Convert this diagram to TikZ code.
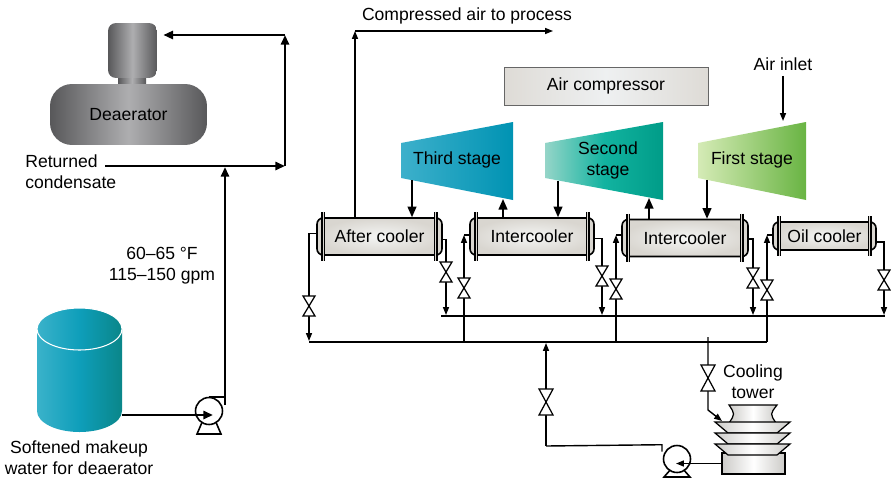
\documentclass[tikz,border=0pt]{standalone}
\usepackage{fontspec}
\setmainfont{Liberation Sans}
\usetikzlibrary{arrows.meta,calc}

\definecolor{deadark}{HTML}{58585A}
\definecolor{dealight}{HTML}{AEAEB0}
\definecolor{tankL}{HTML}{3AB2CA}
\definecolor{tankM}{HTML}{0E9EBA}
\definecolor{tankR}{HTML}{0A8689}
\definecolor{hxgrey}{HTML}{D9D6D0}
\definecolor{hxlight}{HTML}{F4F5F4}
\definecolor{boxgrey}{HTML}{DEDBD6}
\definecolor{boxlight}{HTML}{EEF0F1}
\definecolor{thirdL}{HTML}{3DB0CB}
\definecolor{thirdR}{HTML}{0093B3}
\definecolor{secondL}{HTML}{95D5C8}
\definecolor{secondM}{HTML}{12B3A0}
\definecolor{secondR}{HTML}{009C88}
\definecolor{firstL}{HTML}{D5EBB6}
\definecolor{firstR}{HTML}{69B443}
\definecolor{ctgrey}{HTML}{CCCBC8}

\begin{document}
\begin{tikzpicture}[x=0.02cm,y=-0.02cm,
  pipe/.style={line width=0.8pt},
  water/.style={pipe,-{Triangle[length=4.5pt,width=3.4pt]}},
  flow/.style={line width=0.8pt,-{Triangle[length=4.5pt,width=3.4pt]}},
  feed/.style={line width=1.4pt,-{Triangle[length=5.5pt,width=4.6pt]}},
  air/.style={line width=0.9pt,-{Triangle[length=6pt,width=5pt]}},
  hx node/.style={draw,line width=0.9pt,rounded corners=3.5pt,inner sep=0pt,
    minimum height=0.74cm,inner color=hxlight,outer color=hxgrey},
  sheet/.style={line width=0.8pt,double=hxgrey,double distance=0.6pt},
  stage node/.style={inner sep=0pt,align=center},
  label node/.style={inner sep=0pt,align=center},
  pump node/.style={circle,draw,line width=0.9pt,fill=white,minimum size=0.54cm,inner sep=0pt},
  ct/.style={draw,line width=0.7pt,left color=ctgrey,right color=ctgrey,middle color=white},
  valve/.pic={\draw[line width=0.7pt,fill=white] (-6,-10) -- (6,-10) -- (-6,10) -- (6,10) -- cycle;},
  big valve/.pic={\draw[line width=0.7pt,fill=white] (-7,-13) -- (7,-13) -- (-7,13) -- (7,13) -- cycle;}]

\useasboundingbox (0,0) rectangle (891,480);

% deaerator
\shade[left color=deadark,right color=deadark,middle color=dealight] (118,75) rectangle (146,86);
\node[rounded corners=0.16cm,minimum width=0.98cm,minimum height=1.1cm,
  left color=deadark,right color=deadark,middle color=dealight] (dome) at (132.5,50.5) {};
\node[rounded corners=0.44cm,minimum width=3.14cm,minimum height=1.22cm,
  left color=deadark,right color=deadark,middle color=dealight] (dea) at (128.5,114.5) {Deaerator};

% makeup water tank
\shade[left color=tankL,right color=tankR,middle color=tankM] (37,329) -- (37,411)
  arc[start angle=180,end angle=0,x radius=42.5,y radius=21] -- (122,329) -- cycle;
\shade[left color=tankL,right color=tankR,middle color=tankM] (79.5,329) ellipse[x radius=42.5,y radius=21];
\draw[white,line width=0.6pt] (79.5,329) ellipse[x radius=42.5,y radius=21];
\coordinate (tank) at (122,415);
\node[label node] (tanktext) at (79,458) {Softened makeup\\water for deaerator};

% makeup pump
\draw[line width=0.9pt,fill=white] (203,420) -- (197,434) -- (221,434) -- (215,420);
\node[pump node] (p1) at (209,411) {};
\draw[line width=0.9pt] (p1.north) -- ++(16,0) -- ++(0,8);
\draw[feed] (tank) -- (213,415);

\node[label node,anchor=west,align=left] (rc) at (25,172) {Returned\\condensate};
\node[label node] (flowtext) at (162,266) {60–65 °F\\115–150 gpm};

\coordinate (rcend) at (105,166);
\coordinate (up1) at (285,166);
\coordinate (up2) at (285,35);
\coordinate (p1out) at (225,405);
\draw[feed] (rcend) -- (up1);
\draw[feed] (up1) -- (up2);
\draw[feed] (up2) -- ($(dome.east |- up2)+(6,0)$);
\draw[feed] (p1out) -- ($(p1out |- rcend)+(0,1)$);

% compressor
\node[draw=black!60,line width=0.5pt,minimum width=4.08cm,minimum height=0.76cm,
  left color=boxgrey,right color=boxgrey,middle color=boxlight] (comp) at (606,86) {Air compressor};

\shade[left color=thirdL,right color=thirdR] (401,143) -- (513,122) -- (513,200) -- (401,178) -- cycle;
\shade[left color=secondL,right color=secondR,middle color=secondM] (545,143) -- (663,122) -- (663,200) -- (545,178) -- cycle;
\shade[left color=firstL,right color=firstR] (698,143) -- (806,122) -- (806,200) -- (698,178) -- cycle;
\node[stage node] (s3) at (457,160) {Third stage};
\node[stage node] (s2) at (608,160) {Second\\stage};
\node[stage node] (s1) at (752,160) {First stage};

\node[hx node,minimum width=2.5cm] (ac) at (379.5,236.5) {After cooler};
\node[hx node,minimum width=2.48cm] (ic1) at (532,236.5) {Intercooler};
\node[hx node,minimum width=2.52cm] (ic2) at (685,238) {Intercooler};
\node[hx node,minimum width=2.06cm,minimum height=0.56cm] (oc) at (824.5,236) {Oil cooler};
\foreach \hx in {ac,ic1,ic2,oc}{
  \draw[sheet] ($(\hx.north west)+(7,-5)$) -- ($(\hx.south west)+(7,5)$);
  \draw[sheet] ($(\hx.north east)+(-7,-5)$) -- ($(\hx.south east)+(-7,5)$);
}

\coordinate (ca) at (355,31);
\coordinate (caend) at (553,31);
\draw[flow] (ac.north -| ca) -- (ca);
\draw[flow] (ca) -- (caend);
\node[label node] (cap) at (467,16) {Compressed air to process};

\coordinate (s3out) at (412,180);
\coordinate (s3in) at (503,199);
\coordinate (s2out) at (558,181);
\coordinate (s2in) at (649,198);
\coordinate (s1out) at (707,180);
\coordinate (s1in) at (783,121);
\draw[air] (s3out) -- (s3out |- ac.north);
\draw[air] (s3in |- ic1.north) -- (s3in);
\draw[air] (s2out) -- (s2out |- ic1.north);
\draw[air] (s2in |- ic2.north) -- (s2in);
\draw[air] (s1out) -- (s1out |- ic2.north);
\node[label node] (inlet) at (783,64) {Air inlet};
\draw[flow] ($(inlet.south)+(0,5)$) -- (s1in);

% cooling water headers
\coordinate (lowL) at (309,342);
\coordinate (lowR) at (767,342);
\coordinate (upL) at (441,316);
\coordinate (upR) at (885,316);
\draw[pipe] (lowL) -- (lowR);
\draw[pipe] (upL) -- (upR);

\coordinate (ic1in) at (464,235);
\coordinate (ic2in) at (616,235);
\coordinate (ocin) at (767,235);
\draw[water] ($(ac.west)+(0,-3)$) -| (309,341);
\draw[water] ($(ac.east)+(0,3)$) -| (446,315);
\draw[water] (ic1in |- lowL) -- (ic1in);
\draw[pipe] (ic1in) -- (ic1in -| ic1.west);
\draw[water] ($(ic1.east)+(0,2)$) -| (602,315);
\draw[water] (ic2in |- lowL) -- (ic2in);
\draw[pipe] (ic2in) -- (ic2in -| ic2.west);
\draw[water] ($(ic2.east)+(0,1)$) -| (753,315);
\draw[water] (ocin |- lowL) -- (ocin);
\draw[pipe] (ocin) -- (ocin -| oc.west);
\draw[water] ($(oc.east)+(0,6)$) -| (884,315);

\pic at (309,306) {valve};
\pic at (446,272) {valve};
\pic at (464,288) {valve};
\pic at (602,276) {valve};
\pic at (616,289) {valve};
\pic at (753,278) {valve};
\pic at (767,290) {valve};
\pic at (884,280) {valve};

% cooling tower and pump
\node[draw,line width=0.7pt,minimum width=1.26cm,minimum height=0.42cm,
  left color=ctgrey,right color=ctgrey,middle color=white] (ctbase) at (753.5,463.5) {};
\draw[ct] (729,405) -- (777,405) .. controls (770,414) .. (776,423) -- (729,423) .. controls (735,414) .. (729,405) -- cycle;
\foreach \y in {422,433,444}
  \draw[ct] (715,\y) -- (790,\y) -- (777,\y+11) -- (728,\y+11) -- cycle;
\node[label node] (cttext) at (753,382) {Cooling\\tower};

\draw[line width=0.9pt,fill=white] (671,469) -- (664,477) -- (690,477) -- (683,469);
\node[pump node] (p2) at (677,459) {};
\coordinate (cwup) at (546,446);
\coordinate (cwdown) at (708,337);
\draw[pipe] ($(p2.north)+(-15,7)$) -- ++(0,-7) -- (cwup);
\draw[water] (cwup) -- ($(cwup |- lowL)+(0,1)$);
\draw[water] (cwdown) -- (708,410) -- (722,421);
\draw[water] (ctbase.west) -- ($(ctbase.west -| p2.center)+(-1,0)$);
\pic at (546,402) {big valve};
\pic at (708,378) {big valve};

\end{tikzpicture}
\end{document}
